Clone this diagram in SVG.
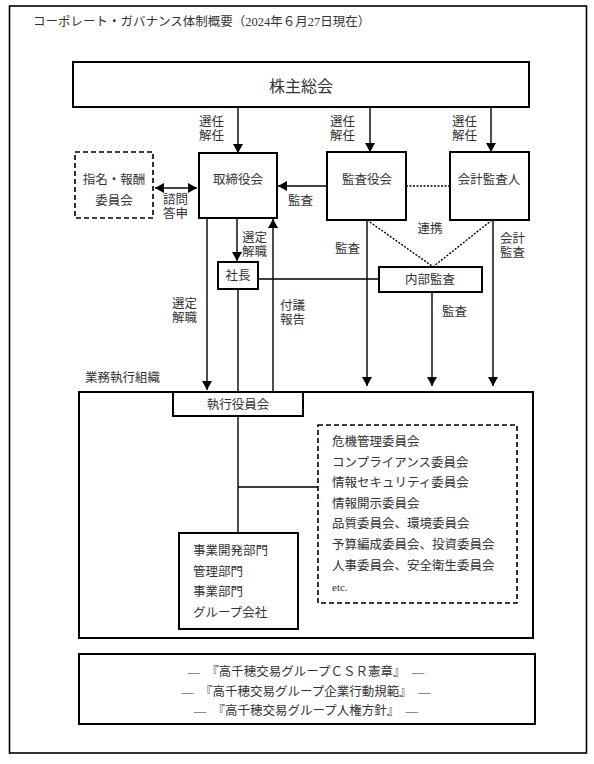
<svg xmlns="http://www.w3.org/2000/svg" width="594" height="764" viewBox="0 0 594 764">
<defs>
<marker id="ah" markerWidth="9" markerHeight="10" refX="9" refY="5" orient="auto" markerUnits="userSpaceOnUse"><path d="M0,0 L9,5 L0,10 Z" fill="#000"/></marker>
<marker id="ahs" markerWidth="9" markerHeight="10" refX="0" refY="5" orient="auto" markerUnits="userSpaceOnUse"><path d="M9,0 L0,5 L9,10 Z" fill="#000"/></marker>
<style>
text{font-family:"Liberation Serif","Noto Sans CJK JP",serif;fill:#333;font-size:12.5px}
.c{text-anchor:middle}
.box{fill:#fff;stroke:#000;stroke-width:2}
.dash{fill:#fff;stroke:#000;stroke-width:1.6;stroke-dasharray:5,3}
.ln{fill:none;stroke:#000;stroke-width:1.4}
.dot{fill:none;stroke:#000;stroke-width:1.4;stroke-dasharray:2,1.5}
.arr{fill:none;stroke:#000;stroke-width:1.4;marker-end:url(#ah)}
</style>
</defs>
<rect width="594" height="764" fill="#fff"/>
<rect x="9.5" y="6" width="577" height="747" fill="none" stroke="#000" stroke-width="1.6"/>
<text x="33" y="26">コーポレート・ガバナンス体制概要（2024年６月27日現在）</text>

<g id="exec-org">
<rect class="box" x="79" y="392" width="454" height="246"/>
<text x="85" y="382">業務執行組織</text>
</g>

<g id="connectors">
<line class="arr" x1="238" y1="107" x2="238" y2="153"/>
<line class="arr" x1="370" y1="107" x2="370" y2="152"/>
<line class="arr" x1="491" y1="107" x2="491" y2="152"/>
<line class="ln" x1="155" y1="188" x2="197" y2="188" marker-start="url(#ahs)" marker-end="url(#ah)"/>
<line class="arr" x1="327" y1="186" x2="278" y2="186"/>
<line class="dot" x1="406" y1="186" x2="450" y2="186"/>
<line class="dot" x1="367" y1="220" x2="432" y2="266"/>
<line class="dot" x1="492" y1="220" x2="434" y2="266"/>
<line class="arr" x1="367" y1="220" x2="367" y2="386"/>
<line class="arr" x1="493" y1="220" x2="493" y2="386"/>
<line class="arr" x1="432" y1="292" x2="432" y2="386"/>
<line class="arr" x1="237" y1="218" x2="237" y2="261"/>
<line class="arr" x1="273" y1="392" x2="273" y2="219"/>
<line class="arr" x1="207" y1="218" x2="207" y2="390"/>
<line class="ln" x1="238" y1="289" x2="238" y2="392"/>
<line class="ln" x1="258" y1="279" x2="379" y2="279"/>
<line class="ln" x1="238" y1="416" x2="238" y2="533"/>
<line class="ln" x1="238" y1="487" x2="318" y2="487"/>
</g>

<g id="labels">
<text x="199" y="126">選任</text><text x="199" y="140">解任</text>
<text x="330" y="126">選任</text><text x="330" y="140">解任</text>
<text x="452" y="126">選任</text><text x="452" y="140">解任</text>
<text x="163" y="204">諮問</text><text x="163" y="218">答申</text>
<text x="288" y="205">監査</text>
<text x="430" y="233" class="c">連携</text>
<text x="335" y="253">監査</text>
<text x="500" y="243">会計</text><text x="500" y="257">監査</text>
<text x="242" y="242">選定</text><text x="242" y="256">解職</text>
<text x="172" y="308">選定</text><text x="172" y="322">解職</text>
<text x="280" y="310">付議</text><text x="280" y="324">報告</text>
<text x="442" y="316">監査</text>
</g>

<g id="shareholders">
<rect class="box" x="73" y="62" width="456" height="45"/>
<text x="301" y="92" class="c" style="font-size:16px">株主総会</text>
</g>
<g id="nomination">
<rect class="dash" x="75" y="152" width="78" height="66"/>
<text x="114" y="184" class="c">指名・報酬</text>
<text x="114" y="205" class="c">委員会</text>
</g>
<g id="board">
<rect class="box" x="199" y="153" width="78" height="65"/>
<text x="238" y="184" class="c">取締役会</text>
</g>
<g id="auditors">
<rect class="box" x="327" y="152" width="79" height="68"/>
<text x="367" y="184" class="c">監査役会</text>
</g>
<g id="accounting-auditor">
<rect class="box" x="450" y="152" width="79" height="68"/>
<text x="489" y="184" class="c">会計監査人</text>
</g>
<g id="president">
<rect class="box" x="218" y="262" width="40" height="27" stroke-width="2.5"/>
<text x="238" y="280" class="c">社長</text>
</g>
<g id="internal-audit">
<rect class="box" x="379" y="267" width="103" height="25" stroke-width="1.6"/>
<text x="430" y="284" class="c">内部監査</text>
</g>
<g id="executive-board">
<rect class="box" x="173" y="392" width="130" height="24"/>
<text x="238" y="409" class="c">執行役員会</text>
</g>
<g id="divisions">
<rect class="box" x="179" y="533" width="119" height="96"/>
<text x="193" y="555">事業開発部門</text>
<text x="193" y="576">管理部門</text>
<text x="193" y="596">事業部門</text>
<text x="193" y="617">グループ会社</text>
</g>
<g id="committees">
<rect class="dash" x="318" y="425" width="199" height="178"/>
<text x="332" y="446">危機管理委員会</text>
<text x="332" y="467">コンプライアンス委員会</text>
<text x="332" y="487">情報セキュリティ委員会</text>
<text x="332" y="508">情報開示委員会</text>
<text x="332" y="528">品質委員会、環境委員会</text>
<text x="332" y="549">予算編成委員会、投資委員会</text>
<text x="332" y="570">人事委員会、安全衛生委員会</text>
<text x="332" y="591" style="font-size:11px">etc.</text>
</g>
<g id="policies">
<rect class="box" x="79" y="654" width="456" height="70"/>
<text x="306" y="676" class="c">—　『高千穂交易グループＣＳＲ憲章』　—</text>
<text x="306" y="696" class="c">—　『高千穂交易グループ企業行動規範』　—</text>
<text x="306" y="715" class="c">—　『高千穂交易グループ人権方針』　—</text>
</g>
</svg>
